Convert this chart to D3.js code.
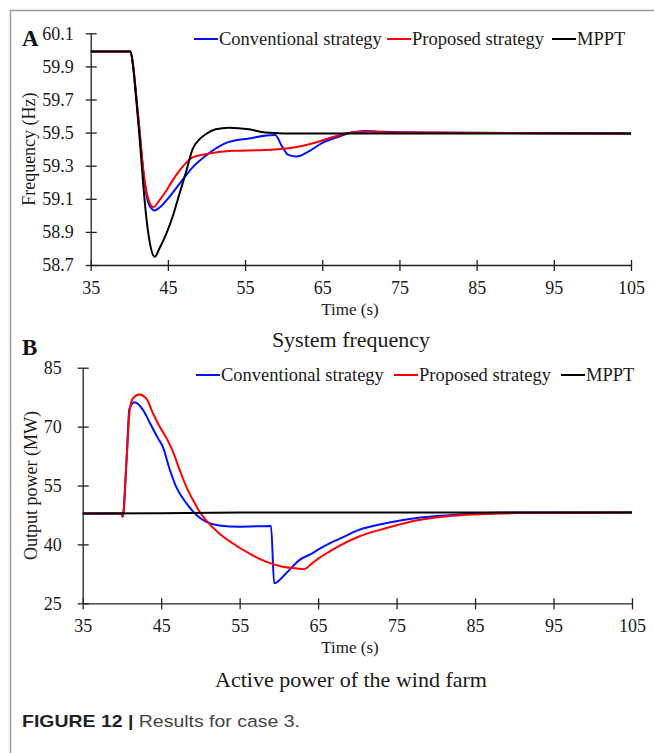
<!DOCTYPE html>
<html>
<head>
<meta charset="utf-8">
<script src="https://cdn.jsdelivr.net/npm/d3@7/dist/d3.min.js"></script>
<style>
  body { margin: 0; background: #fff; }
  svg text { font-family: "Liberation Serif", "Times New Roman", serif; fill: #1a1a1a; }
</style>
</head>
<body>
<svg id="fig" width="654" height="753"></svg>
<script>
'use strict';

var timeTicks = [35, 45, 55, 65, 75, 85, 95, 105];
var freqTicks = [58.7, 58.9, 59.1, 59.3, 59.5, 59.7, 59.9, 60.1];
var powerTicks = [25, 40, 55, 70, 85];
var seriesNames = ['Conventional strategy', 'Proposed strategy', 'MPPT'];
var seriesColors = ['#0010ff', '#ff0000', '#000000'];

// panel A, system frequency (Hz)
var freqConvT = [35, 40, 40.15, 40.5, 40.9, 41.35, 41.8, 42.2, 42.6, 43.3, 44.0, 44.8, 46.5, 48.2, 49.9, 52.4, 55.5, 58.9, 59.8, 60.6, 61.7, 63.2, 64.9, 67.1, 68.8, 70.5, 73, 78, 105];
var freqConv = [59.99, 59.99, 59.99, 59.9, 59.72, 59.5, 59.27, 59.13, 59.06, 59.03, 59.05, 59.09, 59.19, 59.29, 59.36, 59.435, 59.465, 59.485, 59.415, 59.365, 59.355, 59.385, 59.435, 59.475, 59.5, 59.51, 59.505, 59.5, 59.495];
var freqPropT = [35, 40, 40.15, 40.5, 40.9, 41.35, 41.8, 42.2, 42.6, 43.1, 43.9, 44.8, 45.6, 46.5, 47.4, 48.2, 49.9, 53.3, 57.6, 61.9, 64.5, 66.5, 68.8, 71, 75, 105];
var freqProp = [59.99, 59.99, 59.99, 59.9, 59.72, 59.5, 59.28, 59.15, 59.08, 59.05, 59.09, 59.15, 59.21, 59.27, 59.32, 59.35, 59.37, 59.39, 59.395, 59.415, 59.445, 59.475, 59.5, 59.505, 59.5, 59.495];
var freqMpptT = [35, 40, 40.15, 40.5, 40.9, 41.35, 41.8, 42.2, 42.6, 43.3, 43.9, 44.8, 45.6, 46.5, 47.4, 48.2, 49.1, 49.9, 51.2, 52.9, 55.5, 57.6, 60, 70, 105];
var freqMppt = [59.99, 59.99, 59.99, 59.9, 59.7, 59.46, 59.19, 58.99, 58.85, 58.75, 58.8, 58.89, 58.99, 59.13, 59.27, 59.4, 59.46, 59.49, 59.52, 59.53, 59.52, 59.5, 59.495, 59.495, 59.495];

// panel B, wind farm output power (MW)
var powConvT = [35, 40, 40.1, 40.6, 40.95, 41.6, 42.7, 43.6, 44.6, 45.2, 46.1, 46.9, 48.2, 49.5, 50.7, 52.4, 55, 59, 59.4, 60.9, 62.6, 64.3, 65.1, 66.4, 67.7, 70.2, 73.6, 77.8, 82.1, 86.3, 90, 105];
var powConv = [47.9, 47.9, 47.05, 62, 74.5, 76.2, 74.2, 70.8, 67, 64.9, 59, 54.7, 50.5, 47.5, 45.8, 44.8, 44.5, 44.7, 30.1, 32.6, 36, 37.8, 38.8, 40.2, 41.4, 43.7, 45.4, 46.8, 47.5, 48, 48.1, 48.15];
var powPropT = [35, 40, 40.1, 40.6, 41.0, 41.4, 42.2, 43.1, 43.95, 44.8, 45.7, 46.5, 47.35, 48.2, 49.05, 49.9, 50.7, 52.4, 54.1, 56.2, 58.35, 60.5, 62.2, 63.2, 64.3, 65.1, 66.4, 67.7, 70.2, 73.6, 77.8, 82.1, 86.3, 90.5, 105];
var powProp = [47.9, 47.9, 47.05, 62, 74.3, 77.2, 78.2, 77.2, 73.4, 70, 67, 63.6, 59, 54.7, 51.3, 48.3, 46.2, 42.8, 40.3, 37.7, 35.6, 34.3, 33.9, 33.7, 35.3, 36.5, 38.1, 39.6, 42, 44.1, 46.2, 47.3, 47.75, 48.0, 48.15];
var powMpptT = [35, 45, 55, 105];
var powMppt = [47.9, 47.95, 48.1, 48.15];

var svg = d3.select('#fig');

// frame of the figure box
svg.append('path')
    .attr('d', 'M10.5,753V10.5H654')
    .attr('fill', 'none')
    .attr('stroke', '#9a9a9a')
    .attr('stroke-width', 1.5);

function zip (ts, vs) {
    return ts.map(function (t, i) { return [t, vs[i]]; });
}

function drawPanel (opt) {
    var x = d3.scaleLinear().domain([35, 105]).range([opt.left, opt.right]);
    var y = d3.scaleLinear().domain(opt.yDomain).range([opt.bottom, opt.top]);
    var g = svg.append('g');

    var xAxis = g.append('g')
        .attr('transform', 'translate(0,' + opt.bottom + ')')
        .call(d3.axisBottom(x).tickValues(timeTicks).tickSizeOuter(0).tickPadding(10));
    xAxis.selectAll('.tick line').attr('y1', -5).attr('y2', 6);

    var yAxis = g.append('g')
        .attr('transform', 'translate(' + opt.left + ',0)')
        .call(d3.axisLeft(y).tickValues(opt.yTicks).tickFormat(opt.fmt).tickSizeOuter(0).tickPadding(opt.yPad));
    yAxis.selectAll('.tick line').attr('x1', -5).attr('x2', 6);

    g.selectAll('.domain, .tick line').attr('stroke', '#222').attr('stroke-width', 1.3);
    g.selectAll('.tick text')
        .attr('font-family', '"Liberation Serif", serif')
        .attr('font-size', 18)
        .attr('fill', '#1a1a1a');

    var line = d3.line()
        .x(function (d) { return x(d[0]); })
        .y(function (d) { return y(d[1]); })
        .curve(d3.curveMonotoneX);

    opt.series.forEach(function (s, i) {
        g.append('path')
            .datum(s)
            .attr('fill', 'none')
            .attr('stroke', seriesColors[i])
            .attr('stroke-width', 2)
            .attr('d', line);
    });

    // legend
    opt.legendX.forEach(function (lx, i) {
        g.append('line')
            .attr('x1', lx).attr('x2', lx + 24)
            .attr('y1', opt.legendY).attr('y2', opt.legendY)
            .attr('stroke', seriesColors[i])
            .attr('stroke-width', 2);
        g.append('text')
            .attr('x', lx + 25)
            .attr('y', opt.legendY + 6)
            .attr('font-size', 18.5)
            .text(seriesNames[i]);
    });

    g.append('text')
        .attr('transform', 'translate(' + opt.labelX + ',' + ((opt.top + opt.bottom) / 2) + ') rotate(-90)')
        .attr('text-anchor', 'middle')
        .attr('font-size', 18)
        .text(opt.yLabel);

    g.append('text')
        .attr('x', 350)
        .attr('y', opt.bottom + 50)
        .attr('text-anchor', 'middle')
        .attr('font-size', 17)
        .text('Time (s)');

    g.append('text')
        .attr('x', 351)
        .attr('y', opt.bottom + opt.titleGap)
        .attr('text-anchor', 'middle')
        .attr('font-size', 22)
        .text(opt.title);

    g.append('text')
        .attr('x', 22)
        .attr('y', opt.letterY)
        .attr('font-family', '"Liberation Sans", Arial, sans-serif')
        .attr('font-weight', 'bold')
        .attr('font-size', 23)
        .style('fill', '#111')
        .text(opt.letter);
}

drawPanel({
    left: 90.7, right: 631, top: 33.3, bottom: 265,
    yDomain: [58.7, 60.1], yTicks: freqTicks, fmt: d3.format('.1f'), yPad: 11,
    series: [zip(freqConvT, freqConv), zip(freqPropT, freqProp), zip(freqMpptT, freqMppt)],
    legendX: [194, 387, 552], legendY: 39,
    yLabel: 'Frequency (Hz)', labelX: 35, title: 'System frequency', titleGap: 82,
    letter: 'A', letterY: 46
});

drawPanel({
    left: 82.7, right: 632, top: 367.7, bottom: 603.3,
    yDomain: [25, 85], yTicks: powerTicks, fmt: d3.format('d'), yPad: 15,
    series: [zip(powConvT, powConv), zip(powPropT, powProp), zip(powMpptT, powMppt)],
    legendX: [196, 394, 561], legendY: 375,
    yLabel: 'Output power (MW)', labelX: 37, title: 'Active power of the wind farm', titleGap: 84,
    letter: 'B', letterY: 355
});

// caption
var cap = svg.append('text')
    .attr('transform', 'translate(22,727) scale(1.18,1)')
    .attr('font-size', 16.5)
    .style('font-family', '"Liberation Sans", Arial, sans-serif');
cap.append('tspan').attr('font-weight', 'bold').style('fill', '#222').text('FIGURE 12 | ');
cap.append('tspan').style('fill', '#444').text('Results for case 3.');
</script>
</body>
</html>
